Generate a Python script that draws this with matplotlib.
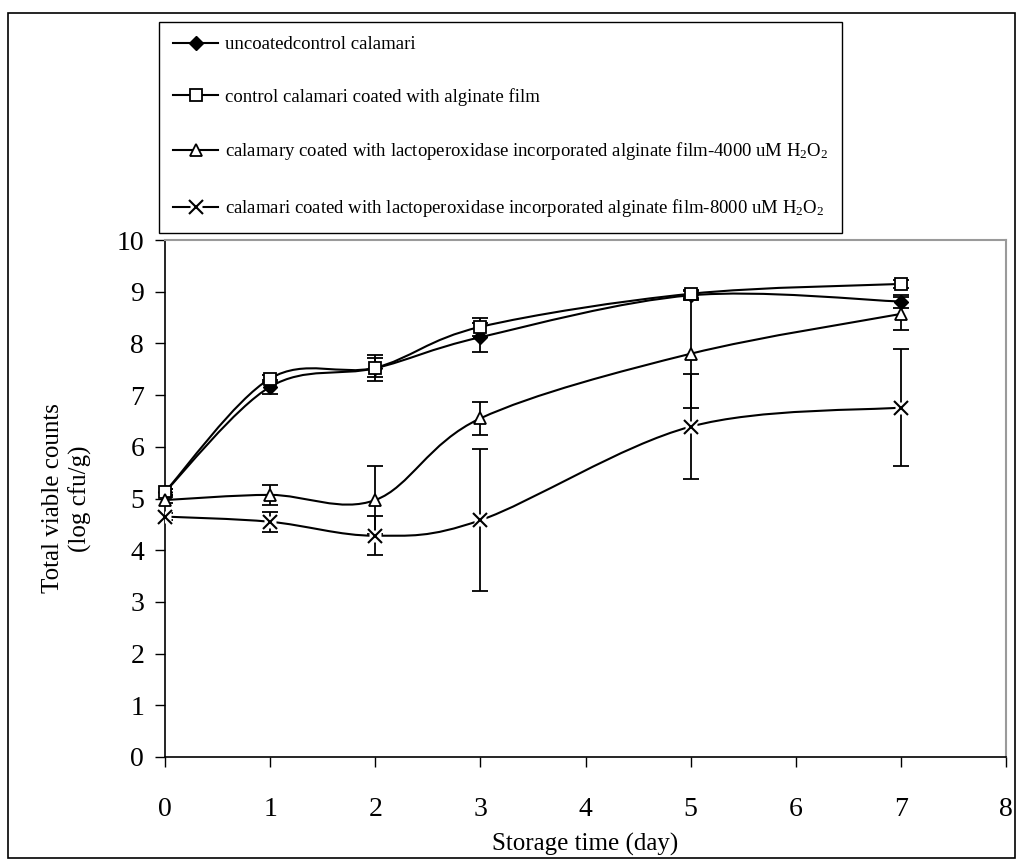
import numpy as np
import matplotlib
matplotlib.use('Agg')
import matplotlib.pyplot as plt
from matplotlib.path import Path
from matplotlib.patches import PathPatch, Rectangle
from matplotlib.lines import Line2D

plt.rcParams['font.family'] = ['Liberation Serif', 'DejaVu Serif']
plt.rcParams['mathtext.fontset'] = 'custom'
plt.rcParams['mathtext.rm'] = 'Liberation Serif'

# data
days = [0, 1, 2, 3, 5, 7]

uncoated = [5.13, 7.16, 7.52, 8.12, 8.93, 8.81]
uncoated_err = [0.06, 0.13, 0.25, 0.28, 0.08, 0.12]

alginate = [5.13, 7.32, 7.53, 8.32, 8.96, 9.15]
alginate_err = [0.06, 0.06, 0.18, 0.18, 0.08, 0.08]

lp4000 = [4.97, 5.07, 4.97, 6.55, 7.80, 8.57]
lp4000_err = [0.06, 0.2, 0.66, 0.32, 1.04, 0.32]

lp8000 = [4.65, 4.55, 4.28, 4.58, 6.39, 6.76]
lp8000_err = [0.06, 0.19, 0.38, 1.37, 1.02, 1.13]

labels = [
    'uncoatedcontrol calamari',
    'control calamari coated with alginate film',
    r'calamary coated with lactoperoxidase incorporated alginate film-4000 uM $\mathregular{H_2O_2}$',
    r'calamari coated with lactoperoxidase incorporated alginate film-8000 uM $\mathregular{H_2O_2}$',
]


def smooth_path(x, y):
    # excel style smoothed line (catmull-rom as cubic bezier)
    x = np.asarray(x, float)
    y = np.asarray(y, float)
    n = len(x)
    verts = [(x[0], y[0])]
    codes = [Path.MOVETO]
    for i in range(n - 1):
        i0 = max(i - 1, 0)
        i3 = min(i + 2, n - 1)
        c1 = (x[i] + (x[i + 1] - x[i0]) / 6, y[i] + (y[i + 1] - y[i0]) / 6)
        c2 = (x[i + 1] - (x[i3] - x[i]) / 6, y[i + 1] - (y[i3] - y[i]) / 6)
        verts += [c1, c2, (x[i + 1], y[i + 1])]
        codes += [Path.CURVE4] * 3
    return Path(verts, codes)


fig = plt.figure(figsize=(10.23, 8.64), dpi=100)
ax = fig.add_axes([165 / 1023, 1 - 757 / 864, 841 / 1023, 517 / 864])

series = [
    (uncoated, uncoated_err, dict(marker='D', ms=7, mfc='black', mec='black')),
    (alginate, alginate_err, dict(marker='s', ms=8, mfc='white', mec='black', mew=1.3)),
    (lp4000, lp4000_err, dict(marker='^', ms=9, mfc='white', mec='black', mew=1.3)),
    (lp8000, lp8000_err, dict(marker='x', ms=10, mec='black', mew=1.5)),
]

handles = []
for k, (vals, errs, mk) in enumerate(series):
    z = 2 + k
    ax.errorbar(days, vals, yerr=errs, fmt='none', ecolor='black', elinewidth=1.3,
                capsize=5.5, capthick=1.3, zorder=z)
    ax.add_patch(PathPatch(smooth_path(days, vals), fill=False, edgecolor='black',
                           lw=1.5, zorder=z))
    if mk['marker'] == 'x':
        ax.plot(days, vals, linestyle='none', marker='s', ms=9, mfc='white', mec='none', zorder=z + 0.1)
    ax.plot(days, vals, linestyle='none', zorder=z + 0.2, clip_on=False, **mk)
    h = Line2D([], [], color='black', lw=1.5, **mk)
    if mk['marker'] == 'x':
        h = (Line2D([], [], color='black', lw=1.5), Line2D([], [], linestyle='none', marker='s', ms=9,
                                                             mfc='white', mec='none'), Line2D([], [], linestyle='none', **mk))
    handles.append(h)

ax.set_xlim(0, 8)
ax.set_ylim(0, 10)
ax.set_xticks(range(0, 9))
ax.set_yticks(range(0, 11))
ax.tick_params(axis='both', direction='out', length=7, width=1, labelsize=20, color='black')
ax.tick_params(axis='x', pad=22)
ax.tick_params(axis='y', pad=8)
for s in ['left', 'bottom']:
    ax.spines[s].set_color('black')
    ax.spines[s].set_linewidth(1.2)
for s in ['top', 'right']:
    ax.spines[s].set_color('#9a9a9a')
    ax.spines[s].set_linewidth(1.5)

ax.set_xlabel('Storage time (day)', fontsize=18, va='center')
ax.xaxis.set_label_coords(0.5, -0.17)
ax.set_ylabel('Total viable counts\n(log cfu/g)', fontsize=18, va='center', linespacing=1.25)
ax.yaxis.set_label_coords(-0.1165, 0.5)

leg = fig.legend(handles, labels, loc='upper left', bbox_to_anchor=(159 / 1023, 1 - 22 / 864),
                 bbox_transform=fig.transFigure, fontsize=13.5, frameon=True, fancybox=False,
                 edgecolor='black', borderaxespad=0, handlelength=2.4, handletextpad=0.35,
                 labelspacing=1.85, borderpad=0.75)
leg.get_frame().set_linewidth(1.0)
leg.get_frame().set_alpha(1)

# outer chart border
fig.patches.append(Rectangle((8 / 1023, 1 - 858 / 864), 1007 / 1023, 845 / 864, transform=fig.transFigure,
                             fill=False, edgecolor='black', lw=1.2))

fig.savefig('out.png', dpi=100)
